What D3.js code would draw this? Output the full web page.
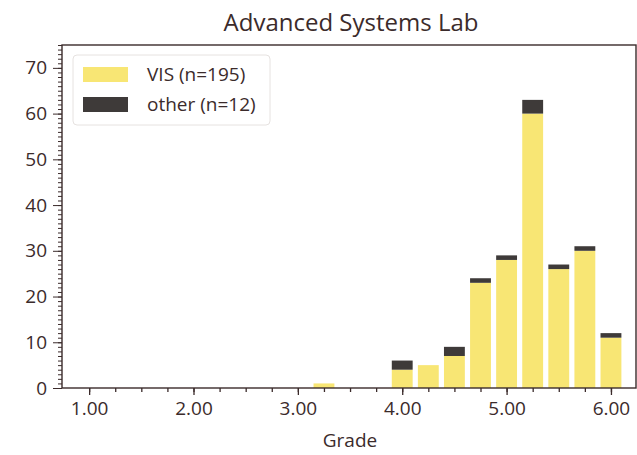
<!DOCTYPE html>
<html><head><meta charset="utf-8">
<script src="https://cdn.jsdelivr.net/npm/d3@7"></script>
<style>body{margin:0;background:#fff}svg{display:block}</style>
</head><body>
<svg id="c" width="637" height="455"></svg>
<script>
const grades = [1.00,1.25,1.50,1.75,2.00,2.25,2.50,2.75,3.00,3.25,3.50,3.75,4.00,4.25,4.50,4.75,5.00,5.25,5.50,5.75,6.00];
const visCounts   = [0,0,0,0,0,0,0,0,0,1,0,0,4,5,7,23,28,60,26,30,11];
const otherCounts = [0,0,0,0,0,0,0,0,0,0,0,0,2,0,2,1,1,3,1,1,1];
const seriesNames = ["VIS (n=195)","other (n=12)"];
const xTickLabels = [1,2,3,4,5,6];
const yTickLabels = [0,10,20,30,40,50,60,70];

const ink = "#3b2b2b", font = "'Open Sans', sans-serif";
const colors = ["#f8e674", "#3e3a39"];
const m = {l:62, r:636, t:45, b:388};
const svg = d3.select("#c");
const x = d3.scaleLinear().domain([0.74, 6.24]).range([m.l, m.r]);
const y = d3.scaleLinear().domain([0, 75]).range([m.b, m.t]);
const bw = x(0.2) - x(0);

const data = grades.map((g,i)=>({g, v:visCounts[i], o:otherCounts[i]}));
svg.append("g").selectAll("rect").data(data.filter(d=>d.v>0)).join("rect")
  .attr("x", d=>x(d.g)-bw/2).attr("width", bw)
  .attr("y", d=>y(d.v)).attr("height", d=>y(0)-y(d.v)).attr("fill", colors[0]);
svg.append("g").selectAll("rect").data(data.filter(d=>d.o>0)).join("rect")
  .attr("x", d=>x(d.g)-bw/2).attr("width", bw)
  .attr("y", d=>y(d.v+d.o)).attr("height", d=>y(d.v)-y(d.v+d.o)).attr("fill", colors[1]);

// frame
svg.append("rect").attr("x", m.l).attr("y", m.t).attr("width", m.r-m.l).attr("height", m.b-m.t)
  .attr("fill","none").attr("stroke", ink).attr("stroke-width", 1.4);

// x axis
const gx = svg.append("g").attr("transform", `translate(0,${m.b})`);
gx.call(d3.axisBottom(x).tickValues(grades).tickSize(4).tickFormat(""))
  .call(g=>g.select(".domain").remove());
gx.append("g").call(d3.axisBottom(x).tickValues(xTickLabels).tickSize(7).tickPadding(7).tickFormat(d3.format(".2f")))
  .call(g=>g.select(".domain").remove());
gx.selectAll("line").attr("stroke", ink).attr("stroke-width",1.3);
gx.selectAll("text").attr("fill", ink).attr("font-family", font).attr("font-size", 19);

// y axis
const gy = svg.append("g").attr("transform", `translate(${m.l},0)`);
gy.call(d3.axisLeft(y).tickValues(d3.range(0,76,1)).tickSize(4).tickFormat(""))
  .call(g=>g.select(".domain").remove());
gy.append("g").call(d3.axisLeft(y).tickValues(yTickLabels).tickSize(9).tickPadding(6))
  .call(g=>g.select(".domain").remove());
gy.selectAll("line").attr("stroke", ink).attr("stroke-width",1);
gy.selectAll("text").attr("fill", ink).attr("font-family", font).attr("font-size", 19);

// labels
svg.append("text").attr("x", 351).attr("y", 31).attr("text-anchor","middle")
  .attr("fill", ink).attr("font-family", font).attr("font-size", 24).text("Advanced Systems Lab");
svg.append("text").attr("x", 350).attr("y", 447).attr("text-anchor","middle")
  .attr("fill", ink).attr("font-family", font).attr("font-size", 19).text("Grade");

// legend
const lg = svg.append("g");
lg.append("rect").attr("x",73).attr("y",55).attr("width",197).attr("height",70).attr("rx",4)
  .attr("fill","#fff").attr("stroke","#e6e2e0").attr("stroke-width",1);
seriesNames.forEach((s,i)=>{
  lg.append("rect").attr("x",83).attr("y",67+i*30).attr("width",45).attr("height",15).attr("fill",colors[i]);
  lg.append("text").attr("x",147).attr("y",81+i*30).attr("fill",ink).attr("font-family",font)
    .attr("font-size",19).text(s);
});
</script>
</body></html>
